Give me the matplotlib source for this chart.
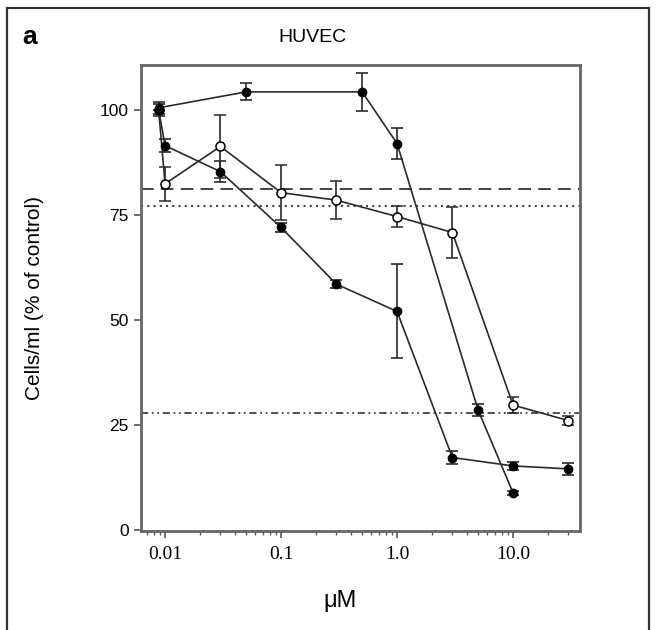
import matplotlib
matplotlib.use("Agg")
import matplotlib.pyplot as plt
import matplotlib.patches as mpatches
from matplotlib.ticker import FixedLocator, FixedFormatter, LogLocator, NullFormatter

# ---- data ----
s1_x = [0.0088, 0.05, 0.5, 1.0, 5.0, 10.0]
s1_y = [100.5, 104.3, 104.3, 92.0, 28.5, 8.8]
s1_e = [1.5, 2.0, 4.5, 3.6, 1.5, 0.5]

s2_x = [0.0088, 0.01, 0.03, 0.1, 0.3, 1.0, 3.0, 10.0, 30.0]
s2_y = [100.0, 91.5, 85.3, 72.0, 58.5, 52.0, 17.2, 15.2, 14.5]
s2_e = [1.5, 1.5, 2.5, 1.0, 1.0, 11.2, 1.5, 1.0, 1.5]

s3_x = [0.0088, 0.01, 0.03, 0.1, 0.3, 1.0, 3.0, 10.0, 30.0]
s3_y = [100.0, 82.4, 91.3, 80.3, 78.5, 74.6, 70.8, 29.7, 26.0]
s3_e = [0.0, 4.0, 7.5, 6.5, 4.5, 2.5, 6.0, 2.0, 1.0]

ref_dashed = 81.2
ref_dotted = 77.2
ref_dashdot = 27.8

yticks = [0, 25, 50, 75, 100]
xticks = [0.01, 0.1, 1.0, 10.0]
xticklabels = ["0.01", "0.1", "1.0", "10.0"]

W, H = 656, 630
fig = plt.figure(figsize=(W / 100, H / 100), dpi=100)
ax = fig.add_axes([141 / W, 1 - 531 / H, (580 - 141) / W, (531 - 65) / H])

lc = "#2a2a2a"
ax.axhline(ref_dashed, color="#333333", lw=1.3, ls=(0, (7, 4)), zorder=1)
ax.axhline(ref_dotted, color="#444444", lw=1.5, ls=(0, (1, 2.0)), zorder=1)
ax.axhline(ref_dashdot, color="#444444", lw=1.3, ls=(0, (4, 2, 1, 2, 1, 2)), zorder=1)

common = dict(color=lc, lw=1.2, elinewidth=1.2, capsize=4.5, capthick=1.2)
ax.errorbar(s3_x, s3_y, yerr=s3_e, fmt="-o", ms=6.5, mfc="white", mec="black", mew=1.1, zorder=2, **common)
ax.errorbar(s2_x, s2_y, yerr=s2_e, fmt="-o", ms=6, mfc="black", mec="black", zorder=3, **common)
ax.errorbar(s1_x, s1_y, yerr=s1_e, fmt="-o", ms=6, mfc="black", mec="black", zorder=3, **common)

ax.set_xscale("log")
ax.set_xlim(0.0062, 37.8)
ax.set_ylim(-0.3, 110.7)

ax.xaxis.set_major_locator(FixedLocator(xticks))
ax.xaxis.set_major_formatter(FixedFormatter(xticklabels))
ax.xaxis.set_minor_locator(LogLocator(base=10, subs=range(2, 10)))
ax.xaxis.set_minor_formatter(NullFormatter())
ax.set_yticks(yticks)
ax.set_yticklabels([str(v) for v in yticks])

for lab in ax.get_xticklabels():
    lab.set_fontfamily("Liberation Serif")
    lab.set_fontsize(14)
for lab in ax.get_yticklabels():
    lab.set_fontfamily("Liberation Sans")
    lab.set_fontsize(12.5)

ax.tick_params(axis="both", which="major", direction="out", length=5, width=1.2, colors="#555555", labelcolor="black")
ax.tick_params(axis="x", which="minor", direction="out", length=3, width=1.0, colors="#555555")
ax.tick_params(axis="x", which="major", pad=6)
ax.tick_params(axis="y", which="major", pad=4)

for sp in ax.spines.values():
    sp.set_color("#666666")
    sp.set_linewidth(2)

fig.text(35 / W, 1 - 298 / H, "Cells/ml (% of control)", rotation=90, ha="center", va="center",
         family="Liberation Sans", fontsize=15)
fig.text(340 / W, 1 - 601 / H, "\u03bcM", ha="center", va="center", family="Liberation Sans", fontsize=17)
fig.text(312 / W, 1 - 37 / H, "HUVEC", ha="center", va="center", family="Liberation Sans", fontsize=14)
fig.text(22 / W, 1 - 37 / H, "a", ha="left", va="center", family="Liberation Sans", fontsize=19, fontweight="bold")

fig.patches.append(mpatches.Rectangle((7 / W, -0.05), (649 - 7) / W, 1.05 - 8 / H, transform=fig.transFigure,
                                      fill=False, lw=1.6, edgecolor="#333333"))

fig.savefig("out.png", dpi=100, facecolor="white")
